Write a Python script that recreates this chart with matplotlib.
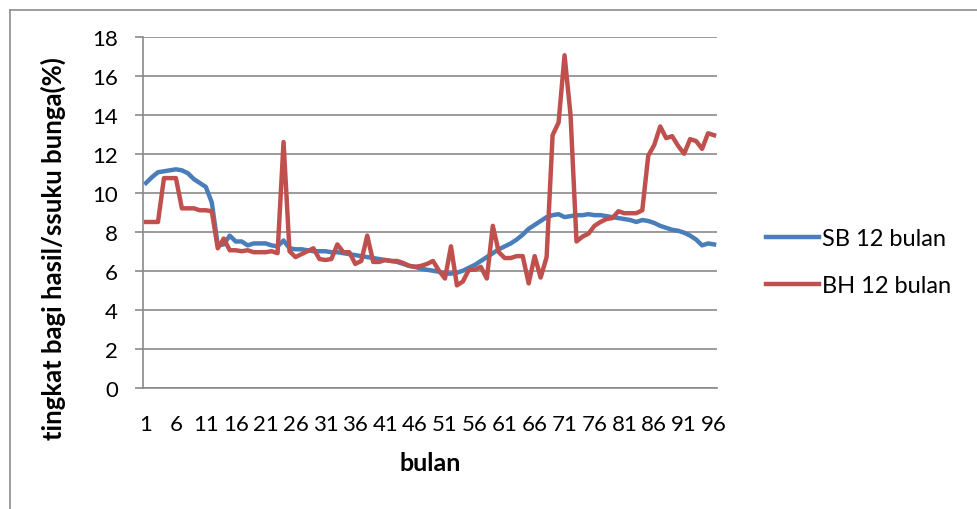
import numpy as np
import matplotlib.pyplot as plt
from matplotlib.lines import Line2D

months = list(range(1, 97))

sbValues = [10.5, 10.8, 11.05, 11.1, 11.15, 11.2, 11.15, 11.0, 10.7, 10.5,
            10.3, 9.5, 7.3, 7.35, 7.8, 7.5, 7.5, 7.3, 7.4, 7.4,
            7.4, 7.3, 7.25, 7.55, 7.15, 7.1, 7.1, 7.05, 7.0, 7.0,
            7.0, 6.95, 6.95, 6.9, 6.85, 6.8, 6.75, 6.7, 6.65, 6.6,
            6.55, 6.5, 6.45, 6.35, 6.25, 6.2, 6.1, 6.05, 6.0, 5.95,
            5.85, 5.85, 5.9, 6.0, 6.15, 6.3, 6.5, 6.7, 6.9, 7.1,
            7.25, 7.4, 7.6, 7.85, 8.15, 8.35, 8.55, 8.75, 8.85, 8.9,
            8.75, 8.8, 8.85, 8.85, 8.9, 8.85, 8.85, 8.8, 8.75, 8.7,
            8.65, 8.6, 8.5, 8.6, 8.55, 8.45, 8.3, 8.2, 8.1, 8.05,
            7.95, 7.8, 7.6, 7.3, 7.4, 7.35]

bhValues = [8.5, 8.5, 8.5, 10.75, 10.75, 10.75, 9.2, 9.2, 9.2, 9.1,
            9.1, 9.05, 7.15, 7.65, 7.05, 7.05, 7.0, 7.05, 6.95, 6.95,
            6.95, 7.0, 6.9, 12.6, 7.0, 6.7, 6.85, 7.0, 7.15, 6.6,
            6.55, 6.6, 7.35, 6.95, 6.95, 6.35, 6.5, 7.8, 6.45, 6.45,
            6.55, 6.5, 6.5, 6.4, 6.25, 6.2, 6.25, 6.35, 6.5, 6.0,
            5.6, 7.25, 5.25, 5.45, 6.05, 6.05, 6.2, 5.6, 8.3, 6.95,
            6.65, 6.65, 6.75, 6.75, 5.35, 6.75, 5.65, 6.7, 12.95, 13.6,
            17.05, 14.0, 7.5, 7.75, 7.9, 8.3, 8.5, 8.65, 8.7, 9.05,
            8.95, 8.95, 8.95, 9.1, 11.9, 12.45, 13.4, 12.8, 12.9, 12.4,
            12.0, 12.75, 12.65, 12.25, 13.05, 12.95]

seriesNames = ["SB 12 bulan", "BH 12 bulan"]
seriesColors = ["#4A7EBB", "#C0504D"]
xTickLabels = [str(m) for m in range(1, 97, 5)]

plt.rcParams['font.family'] = ['Lato', 'DejaVu Sans']

fig = plt.figure(figsize=(9.77, 5.10), dpi=100)
ax = fig.add_axes([0.1464, 0.2378, 0.5875, 0.6882])

#outer chart border (left and top only are visible in the frame)
fig.add_artist(Line2D([10/977, 10/977], [0, 1 - 11/510], transform=fig.transFigure, color='#8c8c8c', lw=1.2))
fig.add_artist(Line2D([10/977, 1], [1 - 11/510, 1 - 11/510], transform=fig.transFigure, color='#8c8c8c', lw=1.2))

ax.plot(months, sbValues, color=seriesColors[0], lw=3.2, label=seriesNames[0], solid_joinstyle='round')
ax.plot(months, bhValues, color=seriesColors[1], lw=3.2, label=seriesNames[1], solid_joinstyle='round')

ax.set_xlim(0.5, 96.5)
ax.set_ylim(0, 18)
ax.set_yticks(range(0, 19, 2))
ax.set_xticks(range(1, 97, 5))
ax.set_xticklabels(xTickLabels)

ax.grid(axis='y', color='#8a8a8a', lw=1.2)
ax.set_axisbelow(True)
for side in ['top', 'right']:
    ax.spines[side].set_visible(False)
for side in ['left', 'bottom']:
    ax.spines[side].set_color('#8a8a8a')
    ax.spines[side].set_linewidth(1.2)

ax.tick_params(axis='y', length=6, width=1.2, color='#8a8a8a', pad=12, labelsize=16)
ax.tick_params(axis='x', length=0, pad=19, labelsize=16)

ax.set_xlabel("bulan", fontsize=18, fontweight='bold', labelpad=12)
ax.set_ylabel("tingkat bagi hasil/ssuku bunga(%)", fontsize=18.5, fontweight='bold')
ax.yaxis.set_label_coords(-0.134, 0.40)

ax.legend(loc='center left', bbox_to_anchor=(1.048, 0.358), frameon=False, fontsize=17,
          handlelength=2.25, handletextpad=0.15, labelspacing=1.1)

fig.savefig("out.png", dpi=100)
